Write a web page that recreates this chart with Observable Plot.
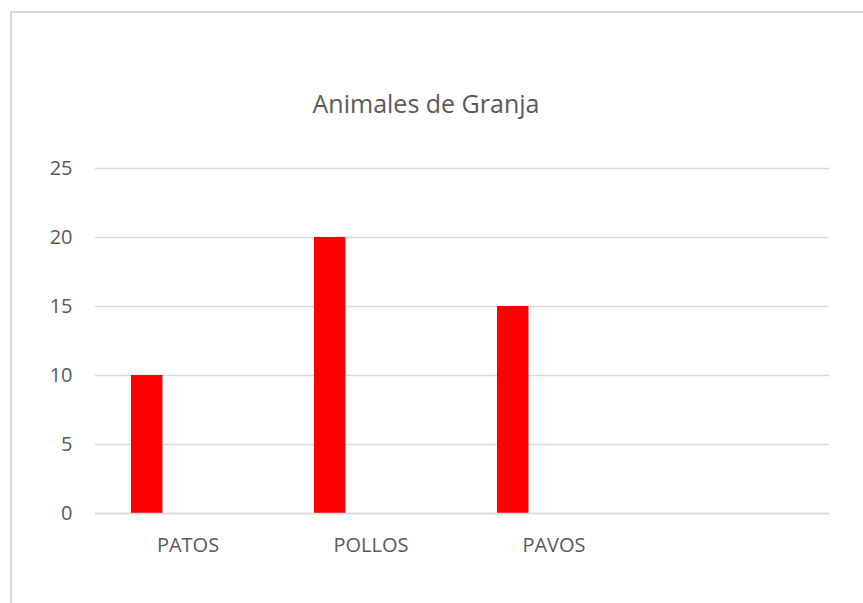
<!DOCTYPE html>
<html>
<head>
<meta charset="utf-8">
<script src="https://cdn.jsdelivr.net/npm/d3@7"></script>
<script src="https://cdn.jsdelivr.net/npm/@observablehq/plot@0.6"></script>
<style>
  html, body { margin: 0; padding: 0; background: #fff; overflow: hidden; }
  #frame { position: absolute; left: 10px; top: 11px; width: 900px; height: 640px;
           border: 2px solid #d9d9d9; box-sizing: border-box; }
  #title { position: absolute; left: 10px; width: 832px; top: 88px; text-align: center;
           font-family: "Open Sans", sans-serif; font-size: 25px; color: #595959; line-height: 30px; }
  #chart { position: absolute; left: 0; top: 0; }
</style>
</head>
<body>
<div id="frame"></div>
<div id="title">Animales de Granja</div>
<div id="chart"></div>
<script>
const categories = ["PATOS", "POLLOS", "PAVOS", ""];
const labels = ["PATOS", "POLLOS", "PAVOS"];
const values = [10, 20, 15];
const yTicks = [0, 5, 10, 15, 20, 25];

const data = labels.map((c, i) => ({category: c, value: values[i]}));

const chart = Plot.plot({
  width: 863,
  height: 603,
  marginLeft: 95,
  marginRight: 34,
  marginTop: 168,
  marginBottom: 90,
  style: {fontFamily: "Open Sans, sans-serif", fontSize: "20px", color: "#595959", background: "transparent"},
  x: {domain: categories, padding: 0, label: null},
  y: {domain: [0, 25], ticks: yTicks, label: null},
  marks: [
    Plot.gridY(yTicks, {stroke: "#d9d9d9", strokeOpacity: 1, strokeWidth: 1.5}),
    Plot.barY(data, {x: "category", y: "value", fill: "#ff0000", insetLeft: 35, insetRight: 116.5}),
    Plot.axisY({ticks: yTicks, tickSize: 0, tickPadding: 23, fill: "#595959", fontSize: 20}),
    Plot.axisX({tickSize: 0, tickPadding: 24, fill: "#595959", fontSize: 20}),
    Plot.ruleY([0], {stroke: "#d9d9d9", strokeWidth: 1.5})
  ]
});
document.getElementById("chart").appendChild(chart);
</script>
</body>
</html>
